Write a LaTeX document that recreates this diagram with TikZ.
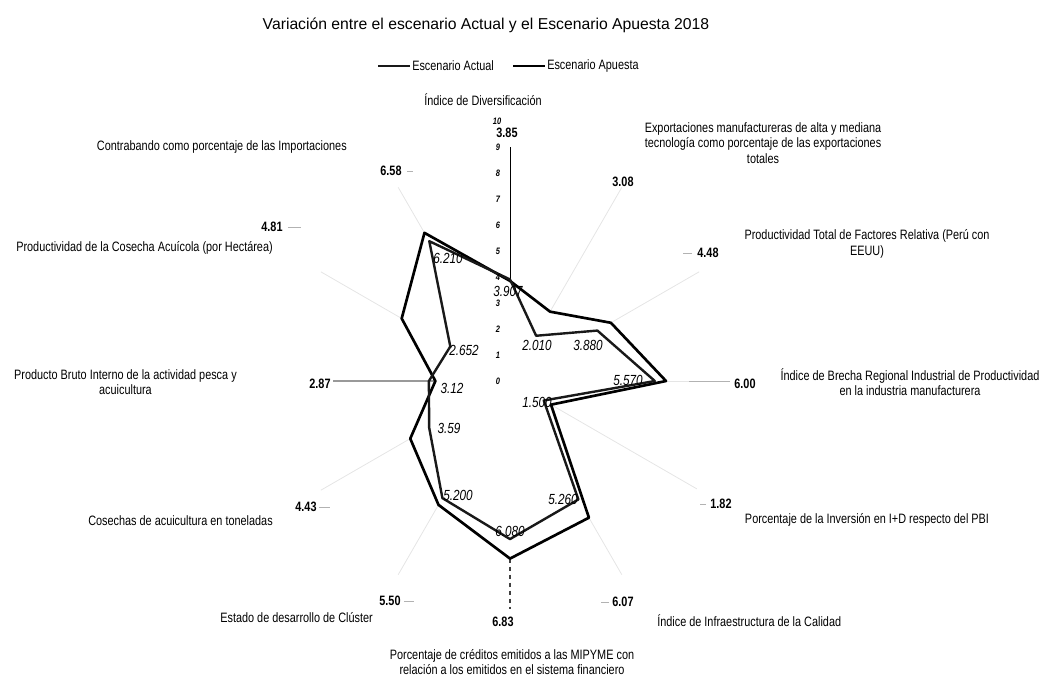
\documentclass[tikz,border=0pt]{standalone}
\usepackage{fontspec}
\setmainfont{Liberation Sans}
\newfontfamily\narrowfont{Liberation Sans}[FakeStretch=0.8]

\tikzset{
  actual/.style={line width=1.8pt, black!90, line join=round},
  apuesta/.style={line width=2pt, black, line join=round},
  spoke/.style={line width=0.6pt, black!10},
  leader/.style={line width=0.6pt, black!30},
  catlabel/.style={font=\narrowfont\fontsize{10.2}{11.6}\selectfont, align=center, inner sep=0pt},
  vallabel/.style={font=\narrowfont\bfseries\fontsize{10.2}{12}\selectfont, inner sep=0pt},
  inlabel/.style={font=\narrowfont\itshape\fontsize{11}{12}\selectfont, inner sep=0pt},
  ticklabel/.style={font=\narrowfont\bfseries\itshape\fontsize{7}{8}\selectfont, inner sep=0pt},
}

\begin{document}
\begin{tikzpicture}[x=0.75pt, y=-0.75pt]
		\useasboundingbox (0,0) rectangle (1041,683);
		
		%%%%% TITLE AND LEGEND %%%%%
		\node[font=\fontsize{11.8}{14}\selectfont] (title) at (486,25) {Variación entre el escenario Actual y el Escenario Apuesta 2018};
		
		\coordinate (la1) at (378,66);
		\coordinate (la2) at (410,66);
		\draw[actual, line width=0.9pt] (la1) -- (la2);
		\node[catlabel, anchor=west] (lega) at (412,66) {Escenario Actual};
		\coordinate (lb1) at (513,66);
		\coordinate (lb2) at (545,66);
		\draw[apuesta, line width=1.2pt] (lb1) -- (lb2);
		\node[catlabel, anchor=west] (legb) at (547,66) {Escenario Apuesta};
		
		%%%%% RADAR %%%%%
		\begin{scope}[shift={(510,381)}, x=19.5pt, y=19.5pt]
		
		\draw[spoke] (60:3.08) -- (60:8.6);
		\draw[spoke] (30:4.48) -- (30:8.4);
		\draw[spoke] (0:6.00) -- (0:6.9);
		\draw[leader] (0:6.9) -- (0:8.46);
		\draw[spoke] (-30:1.82) -- (-30:8.3);
		\draw[spoke] (-60:6.07) -- (-60:8.6);
		\draw[spoke] (-120:5.50) -- (-120:8.6);
		\draw[spoke] (-150:4.43) -- (-150:8.4);
		\draw[spoke] (150:4.81) -- (150:8.4);
		\draw[spoke] (120:6.58) -- (120:8.6);
		
		\draw[black, line width=0.7pt] (90:3.85) -- (90:9.0);
		\draw[black!40, line width=0.8pt] (180:2.87) -- (180:6.8);
		\draw[black!75, dashed, line width=0.8pt] (-90:6.83) -- (-90:8.75);
		
		\draw[apuesta] (90:3.85) -- (60:3.08) -- (30:4.48) -- (0:6.00) -- (-30:1.82) -- (-60:6.07) -- (-90:6.83) -- (-120:5.50) -- (-150:4.43) -- (180:2.87) -- (150:4.81) -- (120:6.58) -- cycle;
		\draw[actual] (90:3.907) -- (60:2.010) -- (30:3.880) -- (0:5.570) -- (-30:1.500) -- (-60:5.260) -- (-90:6.080) -- (-120:5.200) -- (-150:3.59) -- (180:3.12) -- (150:2.652) -- (120:6.210) -- cycle;
		
		\node[ticklabel] (t0) at (-0.46,0) {0};
		\node[ticklabel] (t1) at (-0.46,1) {1};
		\node[ticklabel] (t2) at (-0.46,2) {2};
		\node[ticklabel] (t3) at (-0.46,3) {3};
		\node[ticklabel] (t4) at (-0.46,4) {4};
		\node[ticklabel] (t5) at (-0.46,5) {5};
		\node[ticklabel] (t6) at (-0.46,6) {6};
		\node[ticklabel] (t7) at (-0.46,7) {7};
		\node[ticklabel] (t8) at (-0.46,8) {8};
		\node[ticklabel] (t9) at (-0.46,9) {9};
		\node[ticklabel] (t10) at (-0.5,10) {10};
		\end{scope}
		
		%%%%% VALUES %%%%%
		\node[inlabel] (a0) at (508,291) {3.907};
		\node[inlabel] (a1) at (537,345) {2.010};
		\node[inlabel] (a2) at (588,345) {3.880};
		\node[inlabel] (a3) at (628,380) {5.570};
		\node[inlabel] (a4) at (537,402) {1.500};
		\node[inlabel] (a5) at (563,499) {5.260};
		\node[inlabel] (a6) at (510,531) {6.080};
		\node[inlabel] (a7) at (458,495) {5.200};
		\node[inlabel] (a8) at (449,428) {3.59};
		\node[inlabel] (a9) at (452,388) {3.12};
		\node[inlabel] (a10) at (464,350) {2.652};
		\node[inlabel] (a11) at (448,258) {6.210};
		
		\node[vallabel] (v0) at (507,133) {3.85};
		\node[vallabel] (v1) at (623,182) {3.08};
		\node[vallabel] (v2) at (708,253) {4.48};
		\node[vallabel] (v3) at (745,384) {6.00};
		\node[vallabel] (v4) at (721,504) {1.82};
		\node[vallabel] (v5) at (623,602) {6.07};
		\node[vallabel] (v6) at (503,622) {6.83};
		\node[vallabel] (v7) at (390,601) {5.50};
		\node[vallabel] (v8) at (306,507) {4.43};
		\node[vallabel] (v9) at (320,384) {2.87};
		\node[vallabel] (v10) at (272,227) {4.81};
		\node[vallabel] (v11) at (391,171) {6.58};
		
		\draw[leader] (v2.west) ++(-5,0) -- ++(-9,0);
		\draw[leader] (v4.west) ++(-4,0) -- ++(-6,0);
		\draw[leader] (v5.west) ++(-3,0) -- ++(-8,0);
		\draw[leader] (v7.east) ++(3,0) -- ++(10,0);
		\draw[leader] (v8.east) ++(2,0) -- ++(11,0);
		\draw[leader] (v10.east) ++(5,0) -- ++(13,0);
		\draw[leader] (v11.east) ++(5,0) -- ++(6,0);
		
		%%%%% CATEGORIES %%%%%
		\node[catlabel] (c0) at (483,100) {Índice de Diversificación};
		\node[catlabel] (c1) at (763,143) {Exportaciones manufactureras de alta y mediana\\tecnología como porcentaje de las exportaciones\\totales};
		\node[catlabel] (c2) at (867,244) {Productividad Total de Factores Relativa (Perú con\\EEUU)};
		\node[catlabel] (c3) at (910,382) {Índice de Brecha Regional Industrial de Productividad\\en la industria manufacturera};
		\node[catlabel] (c4) at (867,520) {Porcentaje de la Inversión en I+D respecto del PBI};
		\node[catlabel, anchor=west] (c5) at (657,621) {Índice de Infraestructura de la Calidad};
		\node[catlabel] (c6) at (512,662) {Porcentaje de créditos emitidos a las MIPYME con\\relación a los emitidos en el sistema financiero};
		\node[catlabel, anchor=east] (c7) at (373,618) {Estado de desarrollo de Clúster};
		\node[catlabel, anchor=east] (c8) at (273,521) {Cosechas de acuicultura en toneladas};
		\node[catlabel, anchor=east] (c9) at (237,382) {Producto Bruto Interno de la actividad pesca y\\acuicultura};
		\node[catlabel, anchor=east] (c10) at (273,248) {Productividad de la Cosecha Acuícola (por Hectárea)};
		\node[catlabel, anchor=east] (c11) at (347,147) {Contrabando como porcentaje de las Importaciones};
		
	\end{tikzpicture}
\end{document}
